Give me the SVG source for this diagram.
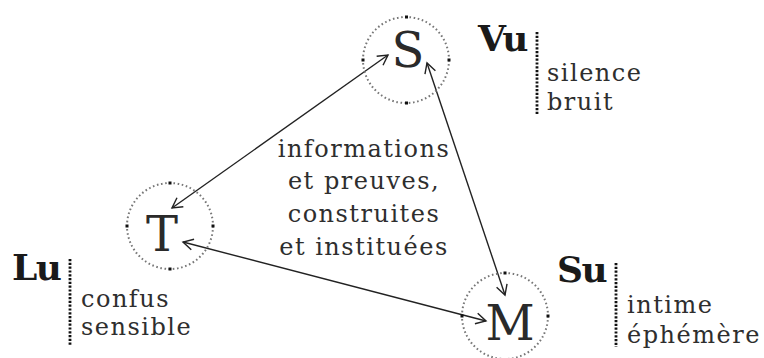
<svg xmlns="http://www.w3.org/2000/svg" width="764" height="358" viewBox="0 0 764 358">
<style>
.ring{fill:none;stroke:#777;stroke-width:2;stroke-dasharray:1.6 2.6;}
.pt{fill:#111;}
.big{font-family:"DejaVu Serif",serif;font-size:48px;fill:#2a2a2a;text-anchor:middle;}
.lab{font-family:"DejaVu Serif",serif;font-size:36px;font-weight:bold;fill:#1a1a1a;letter-spacing:-1.5px;}
.sub{font-family:"DejaVu Serif",serif;font-size:24px;fill:#2e2e2e;letter-spacing:1.5px;}
.mid{font-family:"DejaVu Serif",serif;font-size:24px;fill:#2e2e2e;letter-spacing:1.5px;text-anchor:middle;}
.bar{stroke:#111;stroke-width:2.8;stroke-dasharray:2.2 1.6;}
.arr{stroke:#222;stroke-width:1.4;fill:none;marker-start:url(#ah);marker-end:url(#ah);}
</style>
<defs>
<marker id="ah" markerUnits="userSpaceOnUse" markerWidth="14" markerHeight="14" viewBox="0 0 14 14" refX="12" refY="7" orient="auto-start-reverse">
<path d="M2,1.5 L12,7 L2,12.5" fill="none" stroke="#222" stroke-width="1.4"/>
</marker>
</defs>
<rect width="764" height="358" fill="#fff"/>
<g id="connectors">
<line class="arr" x1="172" y1="208" x2="388" y2="55"/>
<line class="arr" x1="427" y1="63" x2="505" y2="295"/>
<line class="arr" x1="183" y1="242" x2="486" y2="321"/>
</g>
<g id="node-S">
<circle class="ring" cx="406" cy="60" r="43"/>
<rect class="pt" x="405" y="15.5" width="3" height="3"/>
<rect class="pt" x="447.5" y="58.5" width="3" height="3"/>
<rect class="pt" x="361.5" y="58.5" width="3" height="3"/>
<rect class="pt" x="405" y="101.5" width="3" height="3"/>
<text class="big" x="408" y="67">S</text>
</g>
<g id="node-T">
<circle class="ring" cx="170" cy="226" r="43"/>
<rect class="pt" x="168.5" y="181.5" width="3" height="3"/>
<rect class="pt" x="211.5" y="224.5" width="3" height="3"/>
<rect class="pt" x="125.5" y="224.5" width="3" height="3"/>
<rect class="pt" x="168.5" y="267.5" width="3" height="3"/>
<text class="big" x="162" y="251">T</text>
</g>
<g id="node-M">
<circle class="ring" cx="505" cy="316" r="43"/>
<rect class="pt" x="503.5" y="271.5" width="3" height="3"/>
<rect class="pt" x="546.5" y="314.5" width="3" height="3"/>
<rect class="pt" x="460.5" y="314.5" width="3" height="3"/>
<text class="big" x="510" y="340">M</text>
</g>
<g id="center-label">
<text class="mid" x="364" y="157">informations</text>
<text class="mid" x="364" y="189">et preuves,</text>
<text class="mid" x="364" y="222">construites</text>
<text class="mid" x="364" y="255">et instituées</text>
</g>
<g id="label-Vu">
<text class="lab" x="478" y="51">Vu</text>
<line class="bar" x1="537" y1="32" x2="537" y2="115"/>
<text class="sub" x="547" y="81">silence</text>
<text class="sub" x="547" y="110">bruit</text>
</g>
<g id="label-Lu">
<text class="lab" x="12" y="280">Lu</text>
<line class="bar" x1="70" y1="259" x2="70" y2="345"/>
<text class="sub" x="81" y="307">confus</text>
<text class="sub" x="81" y="335">sensible</text>
</g>
<g id="label-Su">
<text class="lab" x="557" y="282">Su</text>
<line class="bar" x1="616" y1="263" x2="616" y2="347"/>
<text class="sub" x="627" y="313">intime</text>
<text class="sub" x="627" y="343">éphémère</text>
</g>
</svg>
